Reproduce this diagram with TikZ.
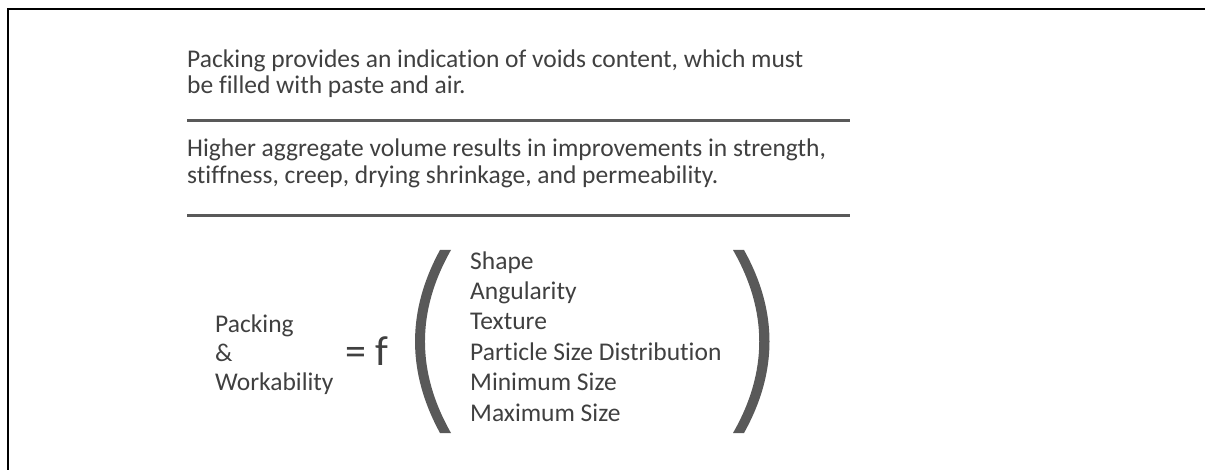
\documentclass[tikz,border=0pt]{standalone}
\usepackage{fontspec}
\setmainfont{Carlito}[Ligatures={NoCommon}]
\definecolor{txt}{HTML}{404040}
\definecolor{rulec}{HTML}{595959}
\begin{document}
\begin{tikzpicture}[x=1pt,y=-1pt,
  body/.style={anchor=base west,inner sep=0pt,text=txt,font=\fontsize{25.5}{30}\selectfont},
  bigf/.style={anchor=base west,inner sep=0pt,text=txt,font=\fontsize{42}{44}\selectfont},
  sep/.style={draw=rulec,line width=3pt},
  frame/.style={draw=black,line width=2pt},
  paren/.style={fill=rulec,draw=none}]
\useasboundingbox (0,0) rectangle (1205,470);
% frame
\coordinate (ftl) at (8,9.5);
\coordinate (fbl) at (8,470);
\coordinate (ftr) at (1205,9.5);
\draw[frame] (fbl) -- (ftl) -- (ftr);
% top paragraphs
\node[body] (p1a) at (187,68) {Packing provides an indication of voids content, which must};
\node[body] (p1b) at (187,94) {be filled with paste and air.};
\coordinate (r1a) at (187,120.5);
\coordinate (r1b) at (850,120.5);
\draw[sep] (r1a) -- (r1b);
\node[body] (p2a) at (187,157) {Higher aggregate volume results in improvements in strength,};
\node[body] (p2b) at (187,184) {stiffness, creep, drying shrinkage, and permeability.};
\coordinate (r2a) at (187,215.5);
\coordinate (r2b) at (850,215.5);
\draw[sep] (r2a) -- (r2b);
% equation
\node[body] (pk) at (215,333) {Packing};
\node[body] (amp) at (215,362) {\&};
\node[body] (wk) at (215,390) {Workability};
\node[bigf] (eqf) at (345,366) {= f};
\fill[paren] (440,250) .. controls (406.7,311) and (406.7,372) .. (440,433)
  -- (451,433) .. controls (416.3,372) and (416.3,311) .. (451,250) -- cycle;
\fill[paren] (744,250) .. controls (778,311) and (778,372) .. (744,433)
  -- (733,433) .. controls (768,372) and (768,311) .. (733,250) -- cycle;
\node[body] (l1) at (470,270) {Shape};
\node[body] (l2) at (470,300) {Angularity};
\node[body] (l3) at (470,330) {Texture};
\node[body] (l4) at (470,360) {Particle Size Distribution};
\node[body] (l5) at (470,390) {Minimum Size};
\node[body] (l6) at (470,421) {Maximum Size};
\end{tikzpicture}
\end{document}
